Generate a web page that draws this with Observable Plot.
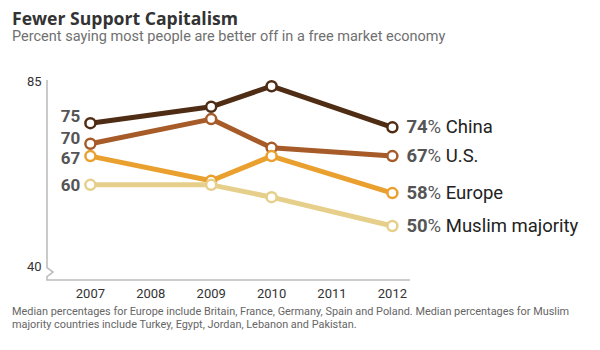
<!DOCTYPE html>
<html>
<head>
<meta charset="utf-8">
<script src="https://cdn.jsdelivr.net/npm/d3@7"></script>
<script src="https://cdn.jsdelivr.net/npm/@observablehq/plot@0.6"></script>
<style>
  html, body { margin: 0; padding: 0; background: #fff; }
  body { position: relative; width: 600px; height: 350px; overflow: hidden; font-family: Roboto, sans-serif; }
  #title { position: absolute; left: 12px; top: 8px; font-family: "Open Sans", sans-serif; font-size: 17.6px; font-weight: 700; color: #333; line-height: 20px; white-space: nowrap; }
  #subtitle { position: absolute; left: 12px; top: 28px; font-size: 14.5px; color: #707070; line-height: 18px; white-space: nowrap; }
  #chart { position: absolute; left: 0; top: 50px; }
  #caption { position: absolute; left: 12px; top: 306px; font-size: 10.9px; color: #666; line-height: 12.5px; white-space: nowrap; }
</style>
</head>
<body>
<div id="title">Fewer Support Capitalism</div>
<div id="subtitle">Percent saying most people are better off in a free market economy</div>
<div id="chart"></div>
<div id="caption">Median percentages for Europe include Britain, France, Germany, Spain and Poland. Median percentages for Muslim<br>majority countries include Turkey, Egypt, Jordan, Lebanon and Pakistan.</div>
<script>
// ---- data ----
const years = [2007, 2009, 2010, 2012];
const series = ["China", "U.S.", "Europe", "Muslim majority"];
const china = [75, 79, 84, 74];
const us = [70, 76, 69, 67];
const europe = [67, 61, 67, 58];
const muslim = [60, 60, 57, 50];
const colors = ["#4f2c14", "#a65b28", "#e9a02f", "#e6cf8a"];
const xTicks = [2007, 2008, 2009, 2010, 2011, 2012];
const yTicks = [40, 85];

const values = [china, us, europe, muslim];
const rows = series.flatMap((s, i) => years.map((yr, j) => ({series: s, year: yr, value: values[i][j]})));
const firstRows = series.map((s, i) => ({series: s, year: years[0], value: values[i][0]}));
const lastRows = series.map((s, i) => ({series: s, year: years[years.length - 1], value: values[i][years.length - 1]}));

// small vertical nudges to keep the left labels apart
const startNudge = [-6.5, -5, 2.5, 0.5];

// axis line with break chevron, computed from scales/dimensions
const axisFrame = (index, scales, vals, dims) => {
  const {width, height, marginLeft, marginRight, marginBottom} = dims;
  const y = scales.y;
  const x0 = marginLeft, xr = width - marginRight, yb = height - marginBottom;
  const yt = y(yTicks[1]) - 1.5, y40 = y(yTicks[0]);
  const p = `M${x0},${yt}V${y40 + 1}L${x0 + 6},${y40 + 5.5}L${x0},${y40 + 10}V${yb}H${xr}`;
  return d3.create("svg:path").attr("d", p).attr("fill", "none")
    .attr("stroke", "#bdbdbd").attr("stroke-width", 1.6).node();
};

const marks = [
  axisFrame,
  Plot.axisX({ticks: xTicks, tickSize: 0, tickPadding: 8, tickFormat: d => String(d), fontSize: 13, fill: "#333", label: null}),
  Plot.axisY({ticks: yTicks, tickSize: 0, tickPadding: 6, fontSize: 13, fill: "#333", label: null}),
  ...series.flatMap((s, i) => {
    const data = rows.filter(r => r.series === s);
    return [
      Plot.line(data, {x: "year", y: "value", stroke: colors[i], strokeWidth: 5}),
      Plot.dot(data, {x: "year", y: "value", r: 5, fill: "white", stroke: colors[i], strokeWidth: 2.5})
    ];
  }),
  ...firstRows.map((d, i) => Plot.text([d], {
    x: "year", y: "value", text: r => String(r.value), textAnchor: "end",
    dx: -10, dy: startNudge[i], fontSize: 17, fontWeight: "bold", fill: "#555"
  })),
  Plot.text(lastRows, {
    x: "year", y: "value", text: d => `${d.value}% ${d.series}`, textAnchor: "start",
    dx: 14, fontSize: 18.5, fill: "#222"
  })
];

const plot = Plot.plot({
  width: 600,
  height: 255,
  marginTop: 31.6,
  marginBottom: 25,
  marginLeft: 47,
  marginRight: 190,
  x: {domain: [2006.29, 2012.3], label: null},
  y: {domain: [36.73, 85], label: null},
  style: {fontFamily: "Roboto, sans-serif", fontSize: "13px", color: "#333", background: "white", overflow: "visible"},
  marks
});

// split the end labels into bold number, % and name
d3.select(plot).selectAll("text").each(function() {
  const t = this.textContent;
  const m = /^(\d+)%\s(.+)$/.exec(t);
  if (!m) return;
  const sel = d3.select(this);
  sel.text(null);
  sel.append("tspan").attr("font-weight", "bold").attr("fill", "#555").text(m[1]);
  sel.append("tspan").attr("fill", "#555").text("% ");
  sel.append("tspan").attr("fill", "#222").text(m[2]);
});

document.getElementById("chart").appendChild(plot);
</script>
</body>
</html>
